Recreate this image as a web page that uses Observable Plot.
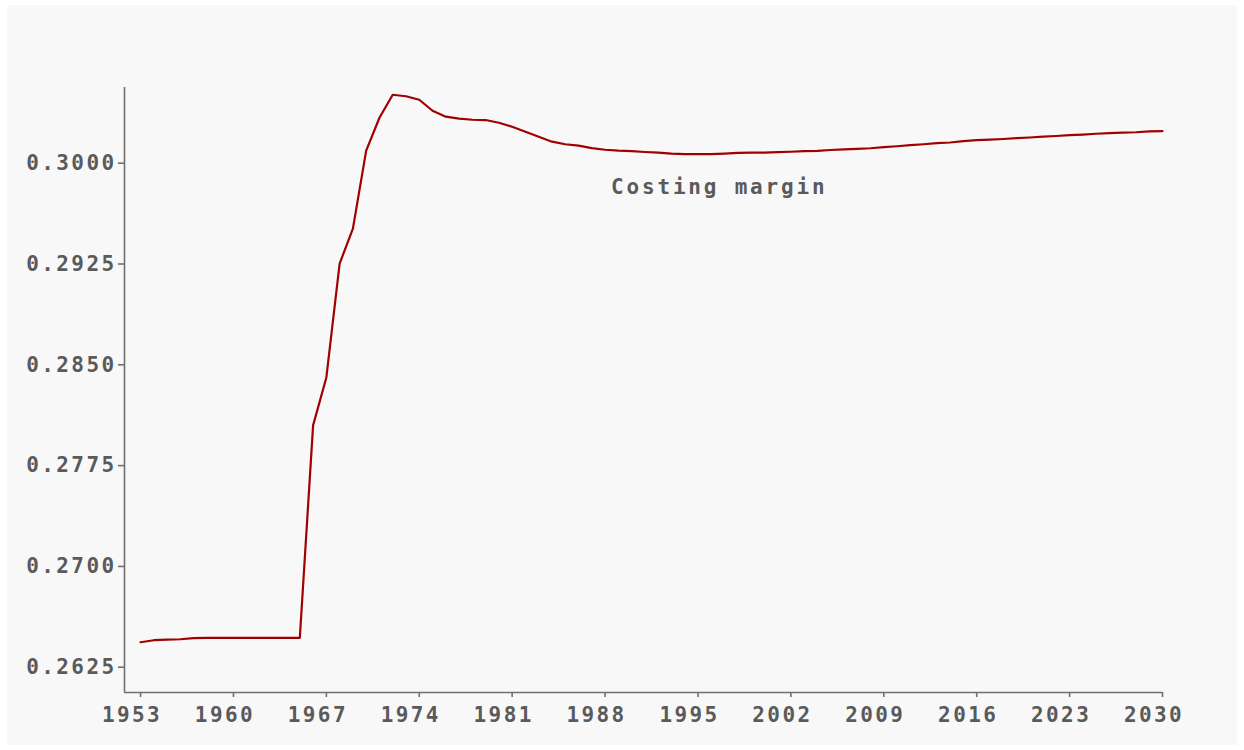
<!DOCTYPE html>
<html>
<head>
<meta charset="utf-8">
<script src="https://cdn.jsdelivr.net/npm/d3@7"></script>
<script src="https://cdn.jsdelivr.net/npm/@observablehq/plot@0.6"></script>
<style>
  html, body { margin: 0; padding: 0; background: #ffffff; }
  #chart { position: absolute; left: 7px; top: 5px; }
  #chart svg text { font-family: "DejaVu Sans Mono", monospace; font-weight: bold; letter-spacing: 2.4px; fill: #5a5a5a; }
  #chart svg g.label text { letter-spacing: 2.8px; }
</style>
</head>
<body>
<div id="chart"></div>
<script>
const years = [1953,1954,1955,1956,1957,1958,1959,1960,1961,1962,1963,1964,1965,1966,1967,1968,1969,1970,
  1971,1972,1973,1974,1975,1976,1977,1978,1979,1980,1981,1982,1983,1984,1985,1986,1987,1988,1989,1990,
  1991,1992,1993,1994,1995,1996,1997,1998,1999,2000,2001,2002,2003,2004,2005,2006,2007,2008,2009,2010,
  2011,2012,2013,2014,2015,2016,2017,2018,2019,2020,2021,2022,2023,2024,2025,2026,2027,2028,2029,2030];
const costingMargin = [0.26436,0.26451,0.26456,0.26458,0.26466,0.26469,0.26469,0.26469,0.26469,0.26469,0.26469,0.26469,0.26469,
  0.28049,0.28406,0.29253,0.29513,0.30093,0.30338,0.30509,0.30498,0.30472,0.30390,0.30346,0.30331,0.30323,0.30321,
  0.30301,0.30271,0.30234,0.30197,0.30160,0.30141,0.30130,0.30112,0.30100,0.30093,0.30089,0.30083,0.30078,0.30071,
  0.30068,0.30068,0.30068,0.30071,0.30076,0.30078,0.30078,0.30082,0.30085,0.30089,0.30091,0.30098,0.30103,0.30106,
  0.30111,0.30119,0.30126,0.30134,0.30141,0.30149,0.30154,0.30164,0.30171,0.30175,0.30180,0.30186,0.30191,0.30197,
  0.30202,0.30208,0.30213,0.30219,0.30224,0.30227,0.30230,0.30236,0.30239];
const xTicks = [1953,1960,1967,1974,1981,1988,1995,2002,2009,2016,2023,2030];
const yTicks = [0.2625,0.2700,0.2775,0.2850,0.2925,0.3000];
const xDomain = [1951.79, 2030];
const yDomain = [0.26062, 0.30563];
const seriesLabel = ["Costing margin"];
const labelX = [1996.6];
const labelY = [0.29818];

const data = years.map((year, i) => ({year, value: costingMargin[i]}));
const labels = seriesLabel.map((text, i) => ({text, x: labelX[i], y: labelY[i]}));

const chart = Plot.plot({
  width: 1230,
  height: 740,
  marginLeft: 117,
  marginTop: 82,
  marginRight: 75,
  marginBottom: 53,
  style: { background: "#f8f8f8", color: "#6a6a6a", overflow: "visible" },
  x: { domain: xDomain },
  y: { domain: yDomain },
  marks: [
    Plot.ruleX([xDomain[0]], { stroke: "#707070", strokeWidth: 1.6 }),
    Plot.ruleY([yDomain[0]], { stroke: "#707070", strokeWidth: 1.6 }),
    Plot.axisX({ ticks: xTicks, tickFormat: () => "", tickSize: 5, stroke: "#707070", strokeWidth: 1.6 }),
    Plot.axisX({ ticks: xTicks, tickFormat: d => String(d), tickSize: 0, tickPadding: 15, fontSize: 21, dx: -8.5 }),
    Plot.axisY({ ticks: yTicks, tickFormat: d3.format(".4f"), tickSize: 6, tickPadding: 2, fontSize: 21, stroke: "#707070", strokeWidth: 1.6 }),
    Plot.line(data, { x: "year", y: "value", stroke: "#a00000", strokeWidth: 2.2 }),
    Plot.text(labels, { x: "x", y: "y", text: "text", fontSize: 21, textAnchor: "middle", className: "label" })
  ]
});
document.getElementById("chart").appendChild(chart);
</script>
</body>
</html>
